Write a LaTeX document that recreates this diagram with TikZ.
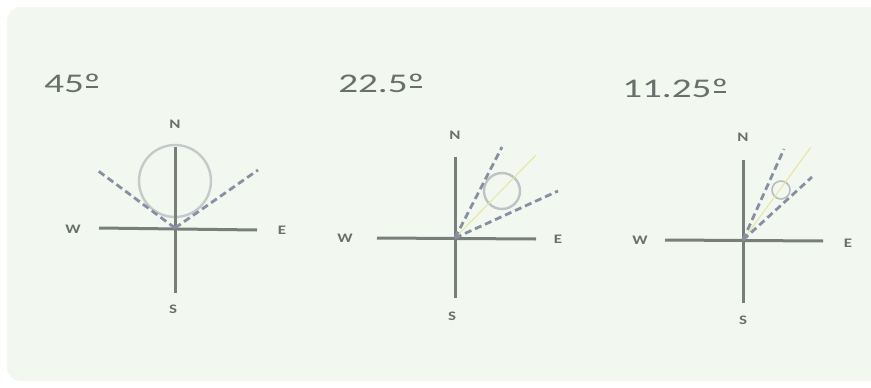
\documentclass[tikz,border=0pt]{standalone}
\usepackage{fontspec}
\setmainfont{Carlito}
\usepackage{xcolor}
\definecolor{cPanel}{RGB}{242, 247, 239}
\definecolor{cAxis}{RGB}{120, 127, 123}
\definecolor{cDash}{RGB}{136, 143, 163}
\definecolor{cRing}{RGB}{196, 201, 202}
\definecolor{cBisect}{RGB}{232, 228, 158}
\definecolor{tGrey}{RGB}{105, 111, 107}
% ordinal sign with its underline bar
\newcommand{\ordsign}{{\ooalign{º\cr\hidewidth\rule[0.17em]{0.3em}{0.06em}\hidewidth\cr}}}

\begin{document}
\begin{tikzpicture}[
    x=1pt, y=-1pt,
    axis/.style={draw=cAxis, line width=3pt},
    sector/.style={draw=cDash, line width=2.8pt, dash pattern=on 7pt off 4pt},
    ring/.style={draw=cRing, line width=2.4pt},
    bisect/.style={draw=cBisect, line width=1pt},
    lbl/.style={font=\bfseries\fontsize{13}{13}\selectfont, text=tGrey, inner sep=0pt, xscale=1.3, transform shape},
    ttl/.style={font=\fontsize{27}{27}\selectfont, text=tGrey, inner sep=0pt, anchor=west, xscale=1.45, transform shape}
]

\useasboundingbox (0,0) rectangle (871,388);
\fill[white] (0,0) rectangle (871,388);
\fill[cPanel, rounded corners=14pt] (7,7) rectangle (890,381);

% 45 degrees
\node[ttl] (t1) at (44,83) {45\ordsign};
\coordinate (c1) at (175,228);
\coordinate (top1) at (175,147);
\coordinate (bot1) at (175,293);
\coordinate (lft1) at (99,228);
\coordinate (rgt1) at (257,230);
\node[lbl] (n1) at (175,124) {N};
\node[lbl] (w1) at (73,229) {W};
\node[lbl] (e1) at (282,230) {E};
\node[lbl] (s1) at (173,309) {S};
\draw[ring] (175,181) circle (36);
\draw[axis] (top1) -- (bot1);
\draw[axis] (lft1) -- (rgt1);
\draw[sector] (c1) -- (97,170);
\draw[sector] (c1) -- (258,170);

% 22.5 degrees
\node[ttl] (t2) at (338,83) {22.5\ordsign};
\coordinate (c2) at (455,238);
\coordinate (top2) at (455,157);
\coordinate (bot2) at (455,298);
\coordinate (lft2) at (377,238);
\coordinate (rgt2) at (536,239);
\node[lbl] (n2) at (455,135) {N};
\node[lbl] (w2) at (345,238) {W};
\node[lbl] (e2) at (558,239) {E};
\node[lbl] (s2) at (452,316) {S};
\draw[axis] (top2) -- (bot2);
\draw[axis] (lft2) -- (rgt2);
\draw[ring, draw=cRing!90!cDash] (502,191) circle (18);
\draw[bisect] (c2) -- (536,155);
\draw[sector] (c2) -- (502,147);
\draw[sector] (c2) -- (558,191);

% 11.25 degrees
\node[ttl] (t3) at (622,88) {11.25\ordsign};
\coordinate (c3) at (743,240);
\coordinate (top3) at (743,160);
\coordinate (bot3) at (743,303);
\coordinate (lft3) at (665,240);
\coordinate (rgt3) at (823,241);
\node[lbl] (n3) at (743,137) {N};
\node[lbl] (w3) at (640,240) {W};
\node[lbl] (e3) at (848,243) {E};
\node[lbl] (s3) at (743,320) {S};
\draw[axis] (top3) -- (bot3);
\draw[axis] (lft3) -- (rgt3);
\draw[ring, draw=cRing!80!cDash, line width=1.6pt] (781,190) circle (9);
\draw[bisect] (c3) -- (811,147);
\draw[sector] (c3) -- (784,149);
\draw[sector] (c3) -- (812,177);

\end{tikzpicture}
\end{document}
